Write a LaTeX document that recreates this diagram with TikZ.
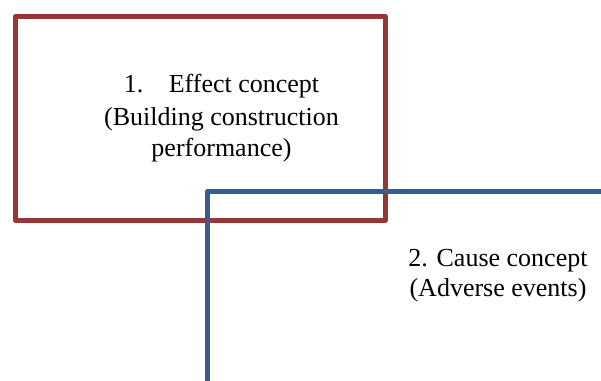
\documentclass[tikz,border=0pt]{standalone}
\usepackage{fontspec}
\setmainfont{Liberation Serif}
\definecolor{effectred}{HTML}{953735}
\definecolor{causeblue}{HTML}{385D8A}
\tikzset{
  effectbox/.style={draw=effectred, line width=4.6pt, line join=round,
    rectangle, inner sep=0pt, anchor=north west},
  causeline/.style={draw=causeblue, line width=4.6pt, line join=round},
  conceptlabel/.style={align=center, inner sep=0pt, anchor=base, text=black}
}
\begin{document}
\begin{tikzpicture}[x=1pt, y=-1pt]
  \useasboundingbox (0,0) rectangle (601,380);
  \clip (0,0) rectangle (601,380);
  % effect concept frame
  \node[effectbox, minimum width=370pt, minimum height=204pt] (effect) at (13,14) {};
  % base anchor sits on the last line of the label
  \node[conceptlabel, font=\fontsize{26}{31}\selectfont] (effectlabel) at (221.5,156.8)
    {1.\hspace{25.5pt}Effect concept\\[2pt](Building construction\\performance)};
  % cause concept frame, running off the right and bottom edges
  \coordinate (causebottom) at (207.5,386);
  \coordinate (causecorner) at (207.5,191.5);
  \coordinate (causeright) at (607,191.5);
  \draw[causeline] (causebottom) -- (causecorner) -- (causeright);
  \node[conceptlabel, font=\fontsize{26}{30}\selectfont] (causelabel) at (498,296.7)
    {2. Cause concept\\(Adverse events)};
\end{tikzpicture}
\end{document}
